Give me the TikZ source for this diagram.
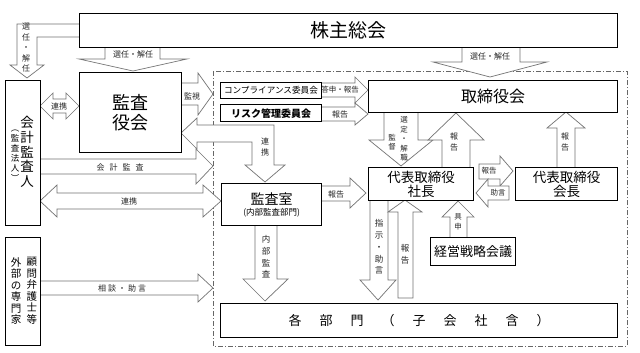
\documentclass[tikz,border=0pt]{standalone}
\usepackage{fontspec}
\setmainfont{Noto Sans CJK JP}
\begin{document}
\begin{tikzpicture}[x=1pt,y=-1pt,
  box/.style={draw=black, line width=1.4pt, fill=white, inner sep=0, anchor=north west, align=center},
  thinbox/.style={box, line width=0.9pt},
  barrow/.style={draw=black!55, fill=white, line width=0.7pt, line join=miter},
  lbl/.style={inner sep=0, font=\fontsize{8}{10}\selectfont, text=black!85, align=center},
  vlbl/.style={inner sep=0, font=\fontsize{8}{10.5}\selectfont, text=black!85, align=center},
  frame/.style={draw=black!60, line width=0.8pt, dash pattern=on 5pt off 2pt on 1pt off 2pt}
]
\useasboundingbox (0,0) rectangle (640,353);
\fill[white] (0,0) rectangle (640,353);

% group frame
\draw[frame] (213,71) rectangle (627,346);

% ---------- block arrows ----------
% A1 kabunushi -> kaikei (senin/kainin)
\draw[barrow] (79,24) -- (17,24) -- (17,65) -- (10,65) -- (27,78) -- (44,65) -- (37,65) -- (37,37) -- (79,37);
\node[vlbl] at (26,48) {選\\任\\・\\解\\任};
% A2 kabunushi -> kansayaku
\draw[barrow] (105,47) -- (105,59) -- (79,59) -- (133,71) -- (187,59) -- (160,59) -- (160,47);
\node[lbl] at (133,54) {選任・解任};
% A3 kabunushi -> torishimariyakukai
\draw[barrow] (462,47) -- (462,62) -- (433,62) -- (490,77) -- (547,62) -- (520,62) -- (520,47);
\node[lbl] at (490,56) {選任・解任};
% A4 renkei kaikei <-> kansayaku
\draw[barrow] (40,106) -- (53,93) -- (53,99) -- (66,99) -- (66,93) -- (79,106) -- (66,119) -- (66,113) -- (53,113) -- (53,119) -- cycle;
\node[lbl] at (59,106) {連携};
% A5 kanshi
\draw[barrow] (181,83) -- (198,83) -- (198,73) -- (213,94) -- (198,115) -- (198,105) -- (181,105);
\node[lbl] at (192,96) {監視};
% A6 renkei kansayaku <-> kansashitsu
\draw[barrow] (181,133) -- (197,118) -- (197,125) -- (274,125) -- (274,165) -- (285,165) -- (265,182) -- (245,165) -- (252,165) -- (252,142) -- (197,142) -- (197,149) -- cycle;
\node[vlbl] at (265,147) {連\\携};
% A7 kaikei kansa
\draw[barrow] (40,159) -- (196,159) -- (196,149) -- (213,166) -- (196,184) -- (196,174) -- (40,174);
\node[lbl] at (120,167) {会\hspace{5pt}計\hspace{5pt}監\hspace{5pt}査};
% A8 renkei kaikei <-> kansashitsu
\draw[barrow] (40,201) -- (57,185) -- (57,193) -- (203,193) -- (203,185) -- (221,201) -- (203,217) -- (203,209) -- (57,209) -- (57,217) -- cycle;
\node[lbl] at (129,201) {連携};
% A9 soudan jogen
\draw[barrow] (40,281) -- (198,281) -- (198,274) -- (213,288) -- (198,302) -- (198,295) -- (40,295);
\node[lbl] at (122,288) {相\hspace{2pt}談\hspace{2pt}・\hspace{2pt}助\hspace{2pt}言};
% A10 toushin houkoku
\draw[barrow] (321,83) -- (355,83) -- (355,77) -- (368,90) -- (355,103) -- (355,97) -- (321,97);
\node[lbl, font=\fontsize{7.5}{9}\selectfont] at (340,90) {答申・報告};
% A11 houkoku risk
\draw[barrow] (321,107) -- (355,107) -- (355,103) -- (368,114) -- (355,125) -- (355,121) -- (321,121);
\node[lbl] at (340,114) {報告};
% A12 sentei kaishoku / kantoku
\draw[barrow] (384,112) -- (384,140) -- (369,140) -- (401,166) -- (433,140) -- (418,140) -- (418,112);
\node[vlbl, font=\fontsize{7.5}{9.5}\selectfont] at (404,139) {選\\定\\・\\解\\職};
\node[vlbl, font=\fontsize{7.5}{9.5}\selectfont] at (392,142) {監\\督};
% A13 houkoku shacho -> torishimariyakukai
\draw[barrow] (442,167) -- (442,140) -- (428,140) -- (456,113) -- (484,140) -- (470,140) -- (470,167);
\node[vlbl] at (454,142) {報\\告};
% A14 houkoku kaicho -> torishimariyakukai
\draw[barrow] (557,167) -- (557,128) -- (547,128) -- (566,112) -- (585,128) -- (575,128) -- (575,167);
\node[vlbl] at (565,142) {報\\告};
% A15 houkoku shacho -> kaicho
\draw[barrow] (479,164) -- (500,164) -- (500,156) -- (513,171) -- (500,186) -- (500,179) -- (479,179) -- cycle;
\node[lbl, font=\fontsize{7.5}{9}\selectfont] at (489,171) {報告};
% A16 jogen kaicho -> shacho
\draw[barrow] (509,186) -- (488,186) -- (488,179) -- (476,193) -- (488,207) -- (488,200) -- (509,200) -- cycle;
\node[lbl, font=\fontsize{7.5}{9}\selectfont] at (498,193) {助言};
% A17 houkoku kansashitsu -> shacho
\draw[barrow] (321,186) -- (350,186) -- (350,178) -- (366,193) -- (350,208) -- (350,201) -- (321,201);
\node[lbl] at (336,194) {報告};
% A18 naibu kansa
\draw[barrow] (255,225) -- (255,279) -- (243,279) -- (265,301) -- (288,279) -- (277,279) -- (277,225);
\node[vlbl, font=\fontsize{8.5}{11.7}\selectfont] at (266,257) {内\\部\\監\\査};
% A19 shiji jogen
\draw[barrow] (370,200) -- (370,280) -- (360,280) -- (378,300) -- (396,280) -- (388,280) -- (388,200);
\node[vlbl, font=\fontsize{8.5}{11.8}\selectfont] at (379,247) {指\\示\\・\\助\\言};
% A20 houkoku kakubu -> shacho
\draw[barrow] (398,298) -- (398,212) -- (388,212) -- (405,200) -- (422,212) -- (413,212) -- (413,298) -- cycle;
\node[vlbl, font=\fontsize{8.5}{12}\selectfont] at (405,254) {報\\告};
% A21 gushin
\draw[barrow] (450,237) -- (450,217) -- (442,217) -- (458,201) -- (474,217) -- (467,217) -- (467,237);
\node[vlbl, font=\fontsize{7.5}{10}\selectfont] at (458,222) {具\\申};

% ---------- boxes ----------
\node[box, minimum width=538pt, minimum height=34pt, font=\fontsize{19}{21}\selectfont] (kabu) at (79,13) {株主総会};
\node[box, minimum width=102pt, minimum height=80pt, font=\fontsize{18}{20}\selectfont] (kansayaku) at (79,72) {監査\\役会};
\node[box, minimum width=35pt, minimum height=145pt] (kaikei) at (5,80) {};
\node[inner sep=0, align=center, font=\fontsize{13.5}{14.75}\selectfont] at (27,152) {会\\計\\監\\査\\人};
\node[inner sep=0, align=center, font=\fontsize{8.5}{10}\selectfont] at (15,156) {︵\\監\\査\\法\\人\\︶};
\node[box, minimum width=35pt, minimum height=108pt] (gaibu) at (5,237) {};
\node[inner sep=0, align=center, font=\fontsize{10.5}{11.5}\selectfont] at (32,291) {顧\\問\\弁\\護\\士\\等};
\node[inner sep=0, align=center, font=\fontsize{10.5}{11.5}\selectfont] at (16,291) {外\\部\\の\\専\\門\\家};
\node[thinbox, minimum width=101pt, minimum height=16pt, font=\fontsize{8.6}{10}\selectfont] (comp) at (220,82) {コンプライアンス委員会};
\node[box, minimum width=101pt, minimum height=17pt, font=\fontsize{10}{12}\selectfont\bfseries] (risk) at (220,104) {リスク管理委員会};
\node[box, minimum width=249pt, minimum height=32pt, font=\fontsize{16}{18}\selectfont] (tori) at (368,80) {取締役会};
\node[box, minimum width=105pt, minimum height=33pt, font=\fontsize{13.5}{14.5}\selectfont] (shacho) at (368,167) {代表取締役\\社長};
\node[box, minimum width=102pt, minimum height=33pt, font=\fontsize{13.5}{14.5}\selectfont] (kaicho) at (515,167) {代表取締役\\会長};
\node[box, minimum width=100pt, minimum height=42pt] (kansashitsu) at (221,183) {{\fontsize{14}{15}\selectfont 監査室}\\[-1pt]{\fontsize{8.5}{10}\selectfont (内部監査部門)}};
\node[box, line width=1.2pt, minimum width=85pt, minimum height=28pt, font=\fontsize{13}{14}\selectfont] (keiei) at (430,237) {経営戦略会議};
\node[box, minimum width=397pt, minimum height=34pt, font=\fontsize{13}{14}\selectfont] (kakubu) at (220,303) {各\hspace{18pt}部\hspace{18pt}門\hspace{18pt}（\hspace{18pt}子\hspace{18pt}会\hspace{18pt}社\hspace{18pt}含\hspace{18pt}）};
\end{tikzpicture}
\end{document}
